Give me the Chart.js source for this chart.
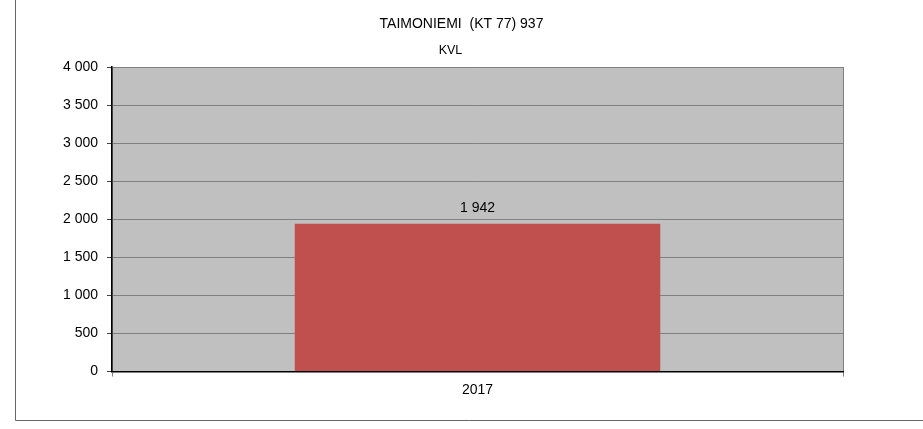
<!DOCTYPE html>
<html>
<head>
<meta charset="utf-8">
<script src="https://cdn.jsdelivr.net/npm/chart.js@4/dist/chart.umd.min.js"></script>
<style>
html,body{margin:0;padding:0;background:#fff;}
#wrap{width:923px;height:429px;position:relative;}
</style>
</head>
<body>
<div id="wrap"><canvas id="c" width="923" height="429"></canvas></div>
<script>
const categories = ['2017'];
const kvlValues = [1942];
const yTicks = [0, 500, 1000, 1500, 2000, 2500, 3000, 3500, 4000];
const titleText = 'TAIMONIEMI  (KT 77) 937';
const subtitleText = 'KVL';

const FONT = '"Liberation Sans", Arial, sans-serif';
function fmt(v){ return String(v).replace(/\B(?=(\d{3})+(?!\d))/g, ' '); }

const frame = {
  id: 'frame',
  beforeDraw(chart){
    const ctx = chart.ctx, a = chart.chartArea;
    ctx.save();
    ctx.fillStyle = '#ffffff';
    ctx.fillRect(0,0,chart.width,chart.height);
    ctx.fillStyle = '#c0c0c0';
    ctx.fillRect(a.left, a.top, a.right-a.left, a.bottom-a.top);
    ctx.strokeStyle = '#666666';
    ctx.lineWidth = 1;
    ctx.beginPath();
    ctx.moveTo(15.5, 0);
    ctx.lineTo(15.5, 420.5);
    ctx.lineTo(chart.width, 420.5);
    ctx.stroke();
    ctx.restore();
  },
  afterDraw(chart){
    const ctx = chart.ctx;
    ctx.save();
    ctx.fillStyle = '#000';
    ctx.textAlign = 'center';
    ctx.textBaseline = 'middle';
    ctx.font = '14px ' + FONT;
    ctx.fillText(titleText, chart.width / 2, 24);
    ctx.font = '12.5px ' + FONT;
    ctx.fillText(subtitleText, chart.width / 2 - 11, 51);
    ctx.restore();
  }
};

const valueLabels = {
  id: 'valueLabels',
  afterDatasetsDraw(chart){
    const ctx = chart.ctx;
    ctx.save();
    ctx.font = '14px ' + FONT;
    ctx.fillStyle = '#000';
    ctx.textAlign = 'center';
    ctx.textBaseline = 'middle';
    chart.getDatasetMeta(0).data.forEach((bar, i) => {
      ctx.fillText(fmt(chart.data.datasets[0].data[i]), bar.x, bar.y - 16);
    });
    ctx.restore();
  }
};

new Chart(document.getElementById('c'), {
  type: 'bar',
  data: {
    labels: categories,
    datasets: [{
      label: subtitleText,
      data: kvlValues,
      backgroundColor: '#c0504d',
      borderWidth: 0,
      barPercentage: 0.5,
      categoryPercentage: 1.0
    }]
  },
  options: {
    responsive: false,
    animation: false,
    devicePixelRatio: 1,
    layout: { padding: { left: 0, right: 80, top: 67, bottom: 0 } },
    plugins: {
      legend: { display: false },
      tooltip: { enabled: false },
      title: { display: false },
      subtitle: { display: false }
    },
    scales: {
      x: {
        offset: true,
        grid: { offset: true, color: '#808080', tickColor: '#808080', tickLength: 5, lineWidth: 1 },
        border: { color: '#000', width: 1.5 },
        ticks: { color: '#000', padding: 5, font: { family: FONT, size: 14 } },
        afterFit(s){ s.height = 57.5; }
      },
      y: {
        min: 0, max: 4000,
        afterBuildTicks(s){ s.ticks = yTicks.map(v => ({ value: v })); },
        grid: { color: '#808080', tickColor: '#404040', tickLength: 5, lineWidth: 1 },
        border: { color: '#000', width: 1.5 },
        ticks: { color: '#000', padding: 9, font: { family: FONT, size: 14 }, callback: v => fmt(v) },
        afterFit(s){ s.width = 112; }
      }
    }
  },
  plugins: [frame, valueLabels]
});
</script>
</body>
</html>
